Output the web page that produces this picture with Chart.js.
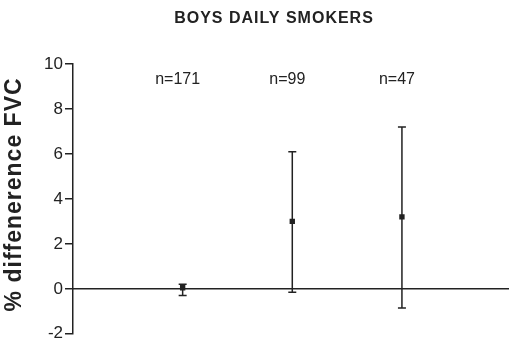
<!DOCTYPE html>
<html>
<head>
<meta charset="utf-8">
<script src="https://cdn.jsdelivr.net/npm/chart.js@4/dist/chart.umd.min.js"></script>
<style>
  html, body { margin: 0; padding: 0; background: #fff; }
  #chart { display: block; }
</style>
</head>
<body>
<canvas id="chart" width="509" height="346"></canvas>
<script>
// 数据
const groups = [1, 2, 3];
const groupLabels = ['n=171', 'n=99', 'n=47'];
const means = [0.05, 3.0, 3.2];
const lower = [-0.3, -0.15, -0.85];
const upper = [0.2, 6.1, 7.2];
const yTicks = [-2, 0, 2, 4, 6, 8, 10];

const ink = '#222';
const font = 'Arial, "Liberation Sans"';

// 误差线 + 文字
const errorBars = {
    id: 'errorBars',
    afterDatasetsDraw(chart) {
        const { ctx, scales: { x, y } } = chart;
        ctx.save();
        ctx.strokeStyle = ink;
        ctx.lineWidth = 1.5;
        groups.forEach((g, i) => {
            const px = x.getPixelForValue(g);
            const top = y.getPixelForValue(upper[i]);
            const bot = y.getPixelForValue(lower[i]);
            ctx.beginPath();
            ctx.moveTo(px, top); ctx.lineTo(px, bot);
            ctx.moveTo(px - 4, top); ctx.lineTo(px + 4, top);
            ctx.moveTo(px - 4, bot); ctx.lineTo(px + 4, bot);
            ctx.stroke();
        });
        ctx.fillStyle = ink;
        ctx.textAlign = 'center';
        ctx.textBaseline = 'middle';
        ctx.font = '16px ' + font;
        groups.forEach((g, i) => {
            ctx.fillText(groupLabels[i], x.getPixelForValue(g) - 5, y.getPixelForValue(9.3));
        });
        ctx.font = 'bold 16px ' + font;
        ctx.letterSpacing = '1px';
        ctx.fillText('BOYS DAILY SMOKERS', 274, 19);
        // y 轴标题
        ctx.font = 'bold 23px ' + font;
        ctx.translate(15, y.getPixelForValue(4.2));
        ctx.rotate(-Math.PI / 2);
        ctx.fillText('% diffenerence FVC', 0, 0);
        ctx.restore();
    }
};

new Chart(document.getElementById('chart'), {
    type: 'scatter',
    data: {
        datasets: [
            {
                data: groups.map((g, i) => ({ x: g, y: means[i] })),
                pointStyle: 'rect',
                pointRadius: 3.8,
                backgroundColor: ink,
                borderColor: ink,
                borderWidth: 0
            },
            {
                type: 'line',
                data: [{ x: 0, y: 0 }, { x: 4.2, y: 0 }],
                borderColor: ink,
                borderWidth: 1.5,
                pointRadius: 0,
                clip: false
            }
        ]
    },
    options: {
        responsive: false,
        animation: false,
        layout: { padding: { top: 64, right: 0, bottom: 4, left: 0 } },
        plugins: {
            legend: { display: false },
            tooltip: { enabled: false }
        },
        scales: {
            x: {
                type: 'linear',
                min: 0,
                max: 3.94,
                display: false
            },
            y: {
                min: -2,
                max: 10,
                afterBuildTicks: axis => { axis.ticks = yTicks.map(v => ({ value: v })); },
                afterFit: axis => { axis.width = 73; },
                border: { display: true, color: ink, width: 1.5 },
                grid: { drawOnChartArea: false, drawTicks: true, tickLength: 8, color: ink, lineWidth: 1.5 },
                ticks: {
                    color: ink,
                    padding: 2,
                    font: { family: font, size: 17 }
                }
            }
        }
    },
    plugins: [errorBars]
});
</script>
</body>
</html>
